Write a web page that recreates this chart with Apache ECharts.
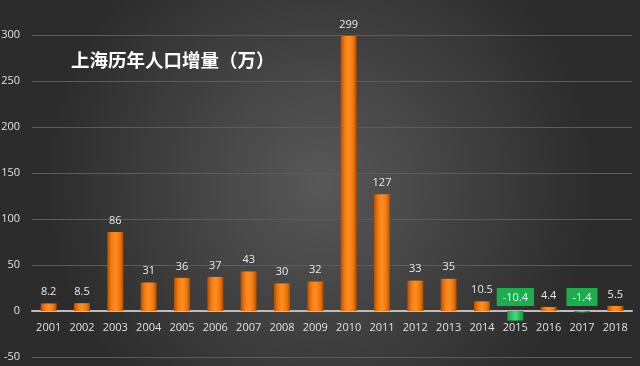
<!DOCTYPE html>
<html><head><meta charset="utf-8">
<script src="https://cdn.jsdelivr.net/npm/echarts@6/dist/echarts.min.js"></script>
<style>html,body{margin:0;padding:0;background:#3a3a3a}#c{width:640px;height:366px}</style>
</head><body><div id="c"></div>
<script>
const years = ['2001','2002','2003','2004','2005','2006','2007','2008','2009','2010','2011','2012','2013','2014','2015','2016','2017','2018'];
const values = [8.2, 8.5, 86, 31, 36, 37, 43, 30, 32, 299, 127, 33, 35, 10.5, -10.4, 4.4, -1.4, 5.5];
const yTicks = [-50, 0, 50, 100, 150, 200, 250, 300];
const title = '上海历年人口增量（万）';

const orange = {type:'linear',x:0,y:0,x2:1,y2:0,colorStops:[
  {offset:0,color:'#b54f00'},{offset:0.25,color:'#f27a10'},{offset:0.5,color:'#ff8f22'},{offset:0.8,color:'#ec760c'},{offset:1,color:'#aa4a00'}]};
const green = {type:'linear',x:0,y:0,x2:1,y2:0,colorStops:[
  {offset:0,color:'#14a046'},{offset:0.5,color:'#3fe07a'},{offset:1,color:'#12943f'}]};

const data = values.map(v => v < 0 ? {
  value: v,
  itemStyle: {color: green},
  label: {show:true, position:'top', distance:5, backgroundColor:'#1cad4e', color:'#f4f4f4', padding:[4,6,3,6], formatter: '{c}'}
} : {value: v});

const chart = echarts.init(document.getElementById('c'));
chart.setOption({
  backgroundColor: {type:'radial',x:0.5,y:0.5,r:0.75,colorStops:[{offset:0,color:'#585858'},{offset:1,color:'#2c2c2c'}]},
  title: {text: title, left: 66, top: 46, textStyle:{color:'#ffffff', fontSize:18.5, fontWeight:'bold', fontFamily:'Noto Sans CJK SC'}},
  grid: {left: 32, right: 8, top: 35, bottom: 9, containLabel:false, outerBoundsMode:'none'},
  xAxis: {type:'category', data: years,
    axisLine:{show:true, onZero:true, lineStyle:{color:'#bdbdbd', width:2}}, axisTick:{show:false},
    axisLabel:{color:'#e0e0e0', fontSize:11, fontFamily:'Open Sans', margin:-35}
  },
  yAxis: {type:'value', min:-50, max:300, interval:50,
    axisLine:{show:false}, axisTick:{show:false},
    axisLabel:{color:'#e0e0e0', fontSize:11, fontFamily:'Open Sans', margin:12},
    splitLine:{lineStyle:{color:'#5c5c5c', width:1}}
  },
  series: [{
    type:'bar', data: data, barWidth: 16,
    itemStyle:{color: orange},
    label:{show:true, position:'top', distance:6, color:'#e8e8e8', fontSize:11, fontFamily:'Open Sans'}
  }]
});
</script></body></html>
